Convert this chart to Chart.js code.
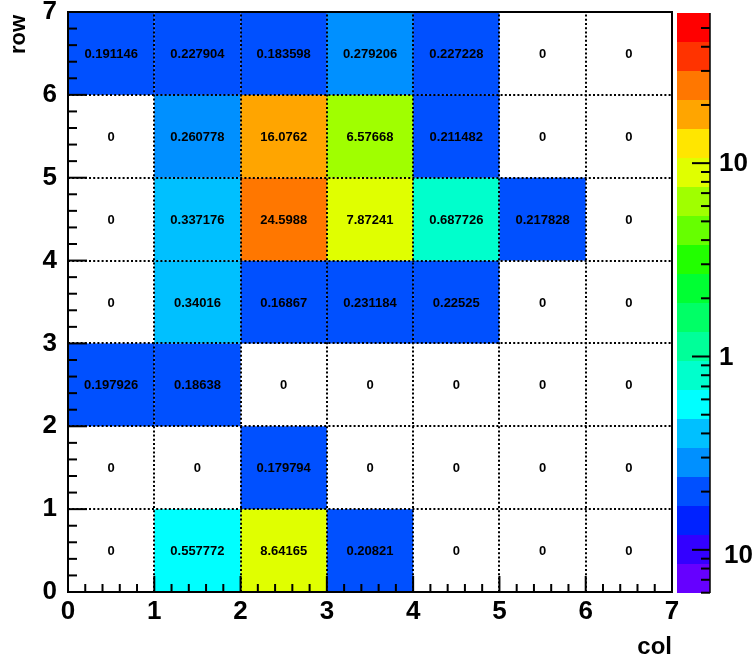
<!DOCTYPE html>
<html>
<head>
<meta charset="utf-8">
<script src="https://cdn.jsdelivr.net/npm/chart.js@4.4.1/dist/chart.umd.min.js"></script>
<style>
  html, body { margin: 0; padding: 0; background: #fff; }
</style>
</head>
<body>
<canvas id="chart" width="755" height="661"></canvas>
<script>
// bin contents, row 0 is the bottom row, columns left to right
const row0 = [0, 0.557772, 8.64165, 0.20821, 0, 0, 0];
const row1 = [0, 0, 0.179794, 0, 0, 0, 0];
const row2 = [0.197926, 0.18638, 0, 0, 0, 0, 0];
const row3 = [0, 0.34016, 0.16867, 0.231184, 0.22525, 0, 0];
const row4 = [0, 0.337176, 24.5988, 7.87241, 0.687726, 0.217828, 0];
const row5 = [0, 0.260778, 16.0762, 6.57668, 0.211482, 0, 0];
const row6 = [0.191146, 0.227904, 0.183598, 0.279206, 0.227228, 0, 0];
const rows = [row0, row1, row2, row3, row4, row5, row6];

const nCols = 7;
const nRows = 7;
const xTitle = "col";
const yTitle = "row";

// z axis (log) range and the 20 colour levels, bottom to top
const zMin = 0.0598;
const zMax = 59.8;
const palette = [
  "#6600ff", "#3300ff", "#0022ff", "#0050ff", "#0090ff",
  "#00c0ff", "#00ffff", "#00ffcc", "#00ff99", "#00ff66",
  "#00ff33", "#22ff00", "#66ff00", "#a0ff00", "#e0ff00",
  "#ffe600", "#ffa500", "#ff7700", "#ff3300", "#ff0000"
];
const zLabelValues = [10, 1, 0.1];
const zLabelTexts = ["10", "1", "10"];

const FONT = "'Liberation Sans', Arial, Helvetica, sans-serif";

function levelOf(v) {
  const f = (Math.log10(v) - Math.log10(zMin)) / (Math.log10(zMax) - Math.log10(zMin));
  return Math.max(0, Math.min(palette.length - 1, Math.floor(f * palette.length)));
}

function fmt(v) {
  if (v === 0) return "0";
  return String(parseFloat(v.toPrecision(6)));
}

const heatmapPlugin = {
  id: "heatmap",
  beforeDatasetsDraw(chart) {
    const { ctx, chartArea: a, scales: { x, y, z } } = chart;
    ctx.save();

    // cells
    rows.forEach((vals, r) => {
      vals.forEach((v, c) => {
        if (v <= 0) return;
        const x0 = x.getPixelForValue(c), x1 = x.getPixelForValue(c + 1);
        const y0 = y.getPixelForValue(r + 1), y1 = y.getPixelForValue(r);
        ctx.fillStyle = palette[levelOf(v)];
        ctx.fillRect(x0, y0, x1 - x0, y1 - y0);
      });
    });

    // dotted grid at integer positions
    ctx.strokeStyle = "#000";
    ctx.lineWidth = 2;
    ctx.setLineDash([2, 2.2]);
    for (let i = 1; i < nCols; i++) {
      const px = Math.round(x.getPixelForValue(i));
      ctx.beginPath(); ctx.moveTo(px, a.bottom); ctx.lineTo(px, a.top); ctx.stroke();
    }
    for (let j = 1; j < nRows; j++) {
      const py = Math.round(y.getPixelForValue(j));
      ctx.beginPath(); ctx.moveTo(a.left, py); ctx.lineTo(a.right, py); ctx.stroke();
    }
    ctx.setLineDash([]);

    // tick marks (pointing into the frame)
    ctx.lineWidth = 2;
    for (let t = 0; t <= nCols * 5; t++) {
      const px = x.getPixelForValue(t / 5);
      const len = t % 5 === 0 ? 16 : 8;
      ctx.beginPath(); ctx.moveTo(px, a.bottom); ctx.lineTo(px, a.bottom - len); ctx.stroke();
    }
    for (let t = 0; t <= nRows * 5; t++) {
      const py = y.getPixelForValue(t / 5);
      const len = t % 5 === 0 ? 19 : 9;
      ctx.beginPath(); ctx.moveTo(a.left, py); ctx.lineTo(a.left + len, py); ctx.stroke();
    }

    // frame
    ctx.lineWidth = 2;
    ctx.strokeRect(a.left, a.top, a.right - a.left, a.bottom - a.top);

    // cell texts
    ctx.fillStyle = "#000";
    ctx.font = "bold 13px " + FONT;
    ctx.textAlign = "center";
    ctx.textBaseline = "middle";
    rows.forEach((vals, r) => {
      vals.forEach((v, c) => {
        ctx.fillText(fmt(v), x.getPixelForValue(c + 0.5), y.getPixelForValue(r + 0.5) + 1);
      });
    });

    // y axis title, rotated, ending near the top of the frame
    ctx.save();
    ctx.font = "bold 22px " + FONT;
    ctx.translate(19, a.top + 3);
    ctx.rotate(-Math.PI / 2);
    ctx.textAlign = "right";
    ctx.textBaseline = "middle";
    ctx.fillText(yTitle, 0, 0);
    ctx.restore();

    // colour bar
    const bl = 677, br = 710;
    const lmin = Math.log10(zMin), lmax = Math.log10(zMax);
    palette.forEach((col, k) => {
      const lo = Math.pow(10, lmin + (lmax - lmin) * k / palette.length);
      const hi = Math.pow(10, lmin + (lmax - lmin) * (k + 1) / palette.length);
      const y0 = z.getPixelForValue(hi), y1 = z.getPixelForValue(lo);
      ctx.fillStyle = col;
      ctx.fillRect(bl, y0 + 1, br - bl, y1 - y0);
    });
    ctx.strokeStyle = "#000";
    ctx.lineWidth = 1.5;
    ctx.beginPath(); ctx.moveTo(br, z.top + 1); ctx.lineTo(br, z.bottom + 1); ctx.stroke();
    ctx.lineWidth = 2;
    for (let e = -2; e <= 1; e++) {
      for (let m = 1; m <= 9; m++) {
        const v = m * Math.pow(10, e);
        if (v < zMin || v > zMax) continue;
        const py = z.getPixelForValue(v) + 1;
        const len = m === 1 ? 18 : 9;
        ctx.beginPath(); ctx.moveTo(br, py); ctx.lineTo(br - len, py); ctx.stroke();
      }
    }
    ctx.fillStyle = "#000";
    ctx.font = "bold 26px " + FONT;
    ctx.textAlign = "left";
    ctx.textBaseline = "middle";
    zLabelValues.forEach((v, i) => {
      const dx = i === zLabelValues.length - 1 ? 5 : 0;
      const dy = i === zLabelValues.length - 1 ? 7 : 2;
      ctx.fillText(zLabelTexts[i], 719 + dx, z.getPixelForValue(v) + dy);
    });

    ctx.restore();
  }
};

const tickFont = { family: FONT, size: 26, weight: "bold" };
const titleFont = { family: FONT, size: 24, weight: "bold" };

new Chart(document.getElementById("chart").getContext("2d"), {
  type: "scatter",
  data: { datasets: [] },
  plugins: [heatmapPlugin],
  options: {
    responsive: false,
    animation: false,
    devicePixelRatio: 1,
    layout: { padding: { top: 12, right: 83, left: 0, bottom: 0 } },
    plugins: { legend: { display: false }, tooltip: { enabled: false } },
    scales: {
      x: {
        type: "linear", min: 0, max: nCols,
        grid: { display: false, drawTicks: false },
        border: { display: false },
        ticks: { stepSize: 1, font: tickFont, color: "#000", padding: 4, maxRotation: 0, autoSkip: false },
        title: { display: true, text: xTitle, align: "end", font: titleFont, color: "#000", padding: { top: 0, bottom: -1 } },
        afterFit(s) { s.height = 69; s.paddingLeft = 0; s.paddingRight = 0; }
      },
      y: {
        type: "linear", min: 0, max: nRows,
        grid: { display: false, drawTicks: false },
        border: { display: false },
        ticks: { stepSize: 1, font: tickFont, color: "#000", padding: 11, autoSkip: false },
        afterFit(s) { s.width = 68; s.paddingTop = 0; s.paddingBottom = 0; }
      },
      z: {
        type: "logarithmic", position: "right", min: zMin, max: zMax, display: false
      }
    }
  }
});
</script>
</body>
</html>
